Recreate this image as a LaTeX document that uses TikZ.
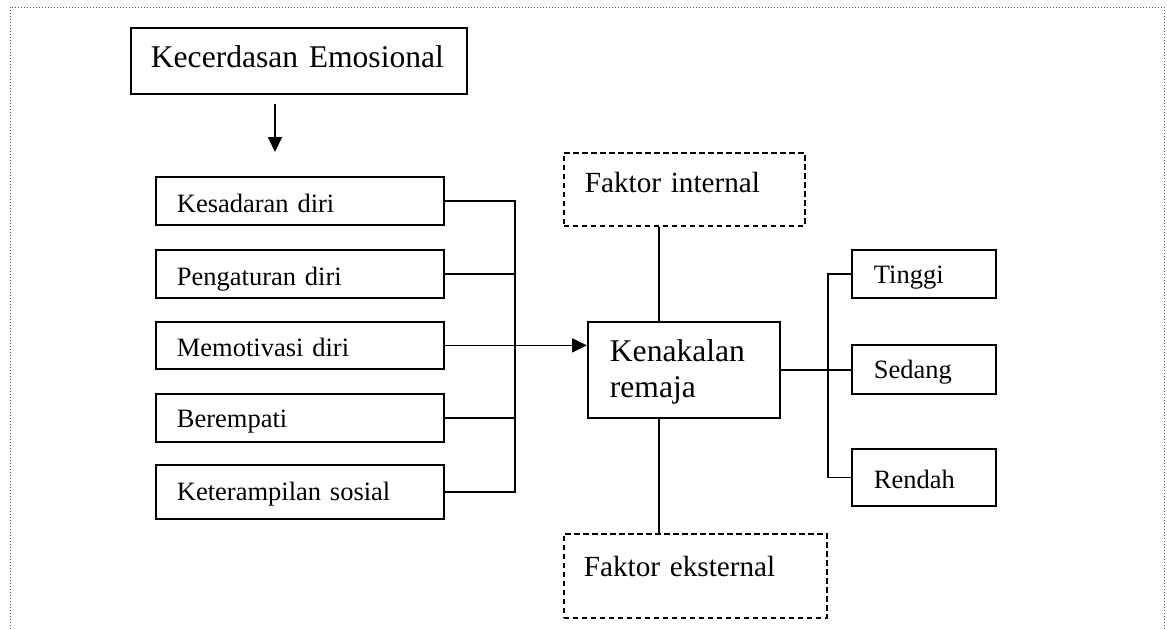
\documentclass[tikz,border=0pt]{standalone}
\usepackage{fontspec}
\setmainfont{Liberation Serif}
\usetikzlibrary{arrows.meta}
\tikzset{
  bx/.style={draw, line width=1.8pt, rectangle, inner ysep=0pt, align=left, anchor=north west},
  dbx/.style={bx, dash pattern=on 5.5pt off 3.5pt},
  small/.style={font=\fontsize{26.5}{30}\selectfont, inner xsep=21pt, text width=246pt, minimum width=288pt},
  lvl/.style={font=\fontsize{26.5}{30}\selectfont, inner xsep=22pt, text width=100pt, minimum width=144pt},
  con/.style={line width=1.8pt},
  arr/.style={line width=1.8pt, -{Triangle[length=15pt,width=14pt]}},
  frame/.style={line width=0.9pt, gray!70!black, dash pattern=on 1pt off 2pt}
}
\begin{document}
\begin{tikzpicture}[x=1pt,y=-1pt]
\useasboundingbox (0,0) rectangle (1167,629);
\draw[frame] (10,629) -- (10,7) -- (1164,7) -- (1164,629);

\node[bx, font=\fontsize{31.6}{36}\selectfont, inner xsep=20pt, text width=296pt, minimum width=336pt, text height=40pt, text depth=26pt] (kec) at (130,27) {Kecerdasan Emosional};

\node[bx, small, text height=36pt, text depth=12pt] (kes) at (155,176) {Kesadaran diri};
\node[bx, small, text height=36pt, text depth=12pt] (pen) at (155,249) {Pengaturan diri};
\node[bx, small, text height=35pt, text depth=12pt] (mem) at (155,321) {Memotivasi diri};
\node[bx, small, text height=34pt, text depth=14pt] (ber) at (155,393) {Berempati};
\node[bx, small, text height=36pt, text depth=18pt] (ket) at (155,464) {Keterampilan sosial};

\node[bx, font=\fontsize{31.6}{36}\selectfont, inner xsep=22pt, text width=148pt, minimum width=192pt, text height=40pt, text depth=56pt] (ken) at (587,321) {Kenakalan\\remaja};

\node[dbx, font=\fontsize{29.2}{34}\selectfont, inner xsep=21pt, text width=199pt, minimum width=241pt, text height=40pt, text depth=33pt] (fi) at (563,152) {Faktor internal};
\node[dbx, font=\fontsize{29.2}{34}\selectfont, inner xsep=20pt, text width=223pt, minimum width=263pt, text height=43pt, text depth=41pt] (fe) at (563,533) {Faktor eksternal};

\node[bx, lvl, text height=34pt, text depth=14pt] (tin) at (851,249) {Tinggi};
\node[bx, lvl, text height=34pt, text depth=15pt] (sed) at (851,344) {Sedang};
\node[bx, lvl, text height=40pt, text depth=17pt] (ren) at (851,448) {Rendah};

% arrow from Kecerdasan Emosional
\coordinate (a1) at (275,104);
\coordinate (a2) at (275,152);
\draw[arr] (a1) -- (a2);

% left bus
\coordinate (lb) at (515,0);
\draw[con] (kes.east) -- (kes.east -| lb) -- (ket.east -| lb) -- (ket.east);
\draw[con] (pen.east) -- (pen.east -| lb);
\draw[con] (ber.east) -- (ber.east -| lb);
\draw[arr] (mem.east) -- (mem.east -| ken.west);

% factors
\coordinate (vx) at (659,0);
\draw[con] (vx |- fi.south) -- (vx |- ken.north);
\draw[con] (vx |- ken.south) -- (vx |- fe.north);

% right bus
\coordinate (rb) at (828,0);
\draw[con] (ken.east) -- (ken.east -| sed.west);
\draw[con] (tin.west) -- (tin.west -| rb) -- (ren.west -| rb) -- (ren.west);
\end{tikzpicture}
\end{document}
